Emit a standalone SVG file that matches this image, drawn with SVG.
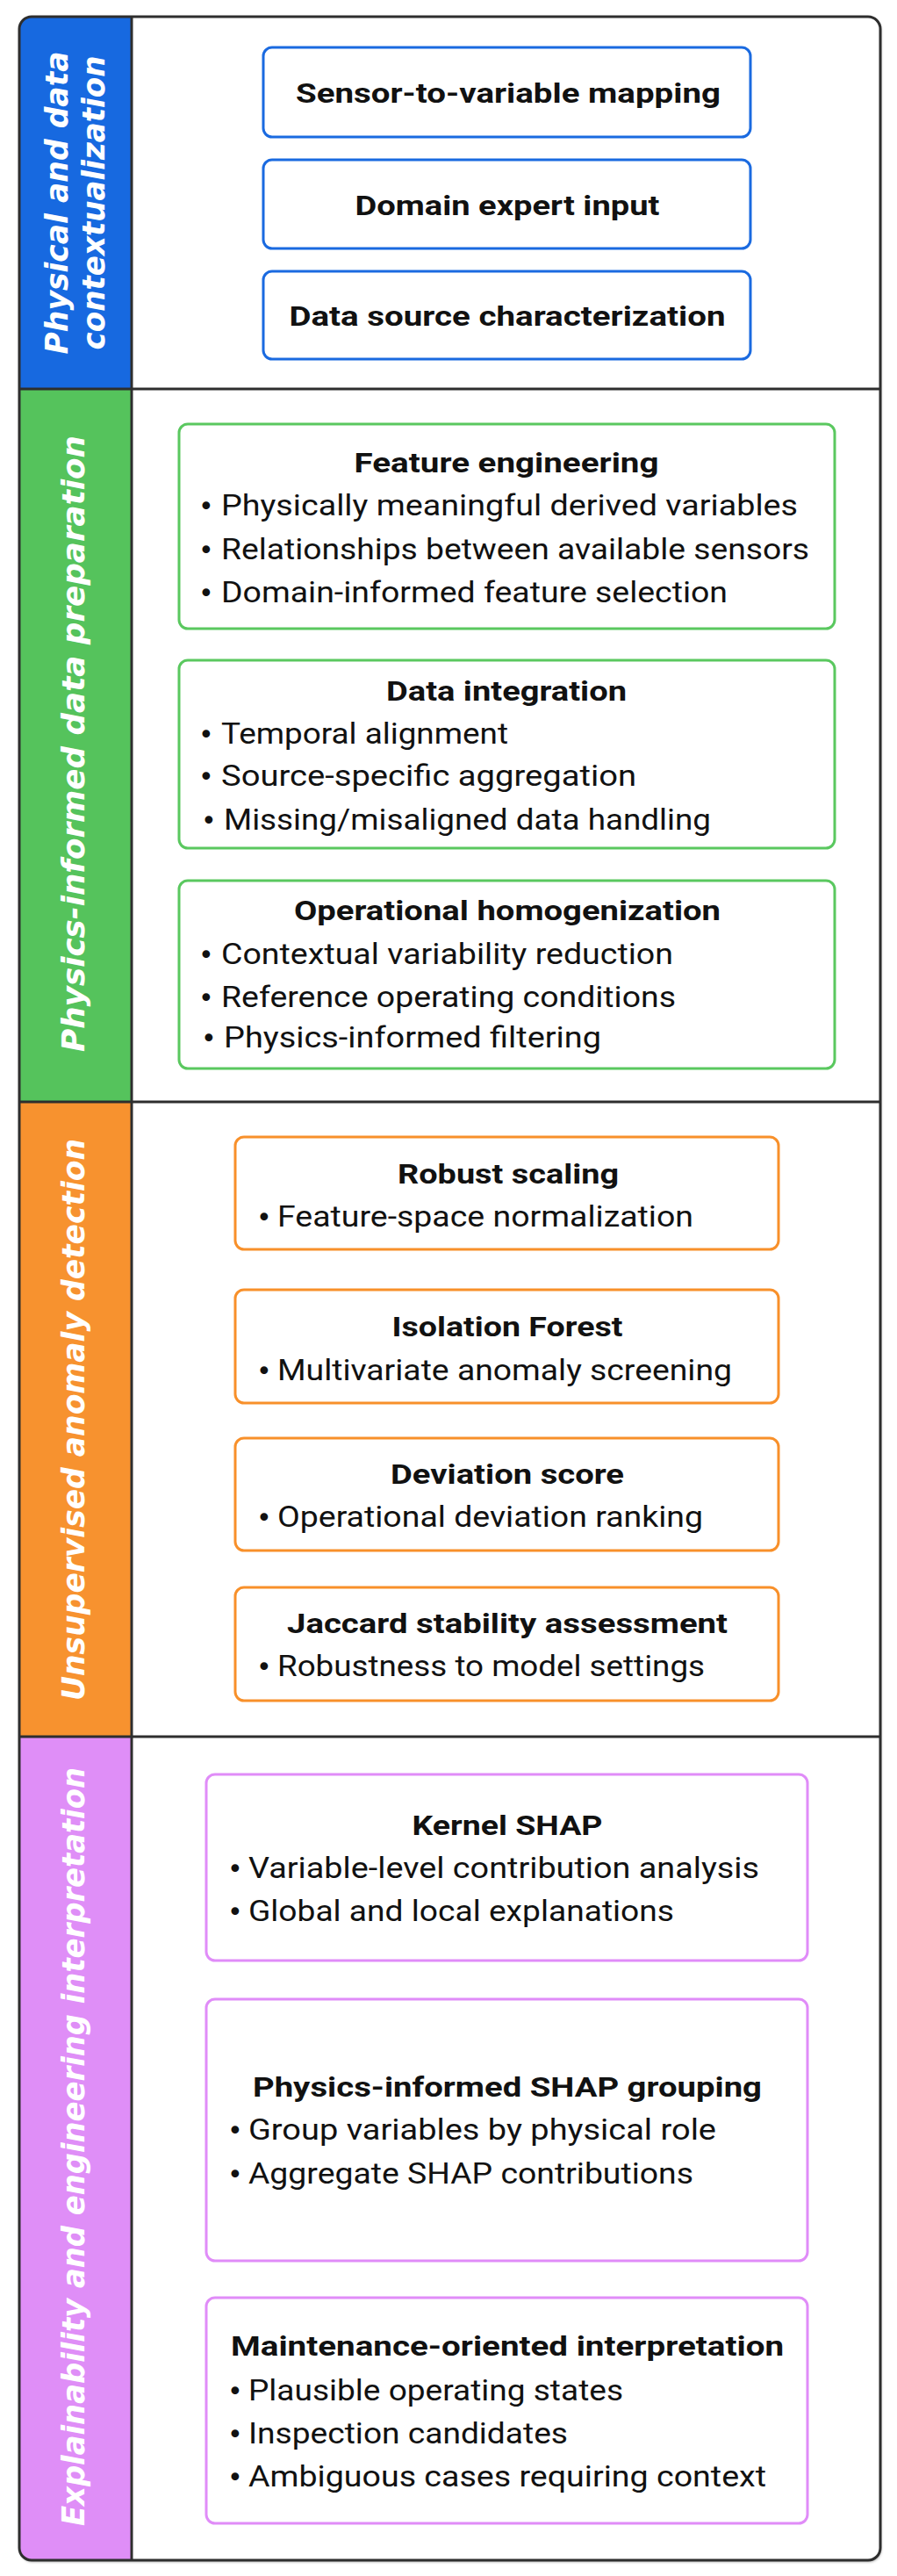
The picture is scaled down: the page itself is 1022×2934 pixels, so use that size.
<svg xmlns="http://www.w3.org/2000/svg" width="1022" height="2934" viewBox="0 0 1022 2934">
<defs>
<clipPath id="frameClip"><rect x="22" y="19" width="981" height="2897" rx="14" ry="14"/></clipPath>
<filter id="sh" x="-5%" y="-5%" width="110%" height="110%"><feDropShadow dx="1" dy="2" stdDeviation="1.5" flood-color="#000" flood-opacity="0.35"/></filter>
</defs>
<style>
.h{font-family:Roboto,"Liberation Sans",sans-serif;font-weight:700;font-size:32px;fill:#111;text-anchor:middle}
.b{font-family:Roboto,"Liberation Sans",sans-serif;font-weight:400;font-size:33px;fill:#111}
.d{font-family:"DejaVu Sans","Liberation Sans",sans-serif;font-weight:400;font-size:30px;fill:#111}
.lab{font-family:"DejaVu Sans","Liberation Sans",sans-serif;font-weight:700;font-style:oblique;font-size:35px;fill:#fff;text-anchor:middle}
.box{fill:#fff;stroke-width:3}
.blue{stroke:#1a6ae0}
.green{stroke:#5ac85f}
.orange{stroke:#f8902a}
.violet{stroke:#e08cf8}
.div{stroke:#2e2e2e;stroke-width:3;fill:none}
</style>
<rect x="22" y="19" width="981" height="2897" rx="14" ry="14" fill="#fff" filter="url(#sh)"/>
<g id="bands" clip-path="url(#frameClip)">
<rect x="22" y="19" width="128" height="424" fill="#1769e0"/>
<rect x="22" y="443" width="128" height="812" fill="#55c35c"/>
<rect x="22" y="1255" width="128" height="723" fill="#f7922f"/>
<rect x="22" y="1978" width="128" height="938" fill="#df8ef7"/>
</g>
<g id="frame">
<rect class="div" x="22" y="19" width="981" height="2897" rx="14" ry="14"/>
<line class="div" x1="150" y1="19" x2="150" y2="2916"/>
<line class="div" x1="22" y1="443" x2="1003" y2="443"/>
<line class="div" x1="22" y1="1255" x2="1003" y2="1255"/>
<line class="div" x1="22" y1="1978" x2="1003" y2="1978"/>
</g>
<g id="labels">
<text class="lab" transform="translate(77,231) rotate(-90)" textLength="345" lengthAdjust="spacingAndGlyphs">Physical and data</text>
<text class="lab" transform="translate(119,231) rotate(-90)" textLength="335" lengthAdjust="spacingAndGlyphs">contextualization</text>
<text class="lab" transform="translate(96,847) rotate(-90)" textLength="702" lengthAdjust="spacingAndGlyphs">Physics-informed data preparation</text>
<text class="lab" transform="translate(96,1617) rotate(-90)" textLength="640" lengthAdjust="spacingAndGlyphs">Unsupervised anomaly detection</text>
<text class="lab" transform="translate(96,2445) rotate(-90)" textLength="864" lengthAdjust="spacingAndGlyphs">Explainability and engineering interpretation</text>
</g>
<g id="connectors"/>
<g id="n-sensor">
<rect class="box blue" x="300" y="54" width="555" height="102" rx="10"/>
<text class="h" x="579" y="117" textLength="484" lengthAdjust="spacingAndGlyphs">Sensor-to-variable mapping</text>
</g>
<g id="n-domain">
<rect class="box blue" x="300" y="182" width="555" height="101" rx="10"/>
<text class="h" x="578" y="245" textLength="347" lengthAdjust="spacingAndGlyphs">Domain expert input</text>
</g>
<g id="n-datasource">
<rect class="box blue" x="300" y="309" width="555" height="100" rx="10"/>
<text class="h" x="578" y="371" textLength="497" lengthAdjust="spacingAndGlyphs">Data source characterization</text>
</g>
<g id="n-feature">
<rect class="box green" x="204" y="483" width="747" height="233" rx="10"/>
<text class="h" x="577" y="538" textLength="347" lengthAdjust="spacingAndGlyphs">Feature engineering</text>
<text class="d" x="226" y="587">•</text><text class="b" x="252" y="587" textLength="657" lengthAdjust="spacingAndGlyphs">Physically meaningful derived variables</text>
<text class="d" x="226" y="637">•</text><text class="b" x="252" y="637" textLength="670" lengthAdjust="spacingAndGlyphs">Relationships between available sensors</text>
<text class="d" x="226" y="686">•</text><text class="b" x="252" y="686" textLength="577" lengthAdjust="spacingAndGlyphs">Domain-informed feature selection</text>
</g>
<g id="n-integration">
<rect class="box green" x="204" y="752" width="747" height="214" rx="10"/>
<text class="h" x="577" y="798" textLength="274" lengthAdjust="spacingAndGlyphs">Data integration</text>
<text class="d" x="226" y="847">•</text><text class="b" x="252" y="847" textLength="327" lengthAdjust="spacingAndGlyphs">Temporal alignment</text>
<text class="d" x="226" y="895">•</text><text class="b" x="252" y="895" textLength="473" lengthAdjust="spacingAndGlyphs">Source-specific aggregation</text>
<text class="d" x="229" y="945">•</text><text class="b" x="255" y="945" textLength="555" lengthAdjust="spacingAndGlyphs">Missing/misaligned data handling</text>
</g>
<g id="n-homogenization">
<rect class="box green" x="204" y="1003" width="747" height="214" rx="10"/>
<text class="h" x="578" y="1048" textLength="486" lengthAdjust="spacingAndGlyphs">Operational homogenization</text>
<text class="d" x="226" y="1098">•</text><text class="b" x="252" y="1098" textLength="515" lengthAdjust="spacingAndGlyphs">Contextual variability reduction</text>
<text class="d" x="226" y="1147">•</text><text class="b" x="252" y="1147" textLength="518" lengthAdjust="spacingAndGlyphs">Reference operating conditions</text>
<text class="d" x="229" y="1193">•</text><text class="b" x="255" y="1193" textLength="430" lengthAdjust="spacingAndGlyphs">Physics-informed filtering</text>
</g>
<g id="n-robust">
<rect class="box orange" x="268" y="1295" width="619" height="128" rx="10"/>
<text class="h" x="579" y="1348" textLength="252" lengthAdjust="spacingAndGlyphs">Robust scaling</text>
<text class="d" x="292" y="1397">•</text><text class="b" x="316" y="1397" textLength="474" lengthAdjust="spacingAndGlyphs">Feature-space normalization</text>
</g>
<g id="n-iforest">
<rect class="box orange" x="268" y="1469" width="619" height="129" rx="10"/>
<text class="h" x="578" y="1522" textLength="263" lengthAdjust="spacingAndGlyphs">Isolation Forest</text>
<text class="d" x="292" y="1572">•</text><text class="b" x="316" y="1572" textLength="518" lengthAdjust="spacingAndGlyphs">Multivariate anomaly screening</text>
</g>
<g id="n-deviation">
<rect class="box orange" x="268" y="1638" width="619" height="128" rx="10"/>
<text class="h" x="578" y="1690" textLength="266" lengthAdjust="spacingAndGlyphs">Deviation score</text>
<text class="d" x="292" y="1739">•</text><text class="b" x="316" y="1739" textLength="485" lengthAdjust="spacingAndGlyphs">Operational deviation ranking</text>
</g>
<g id="n-jaccard">
<rect class="box orange" x="268" y="1808" width="619" height="129" rx="10"/>
<text class="h" x="578" y="1860" textLength="502" lengthAdjust="spacingAndGlyphs">Jaccard stability assessment</text>
<text class="d" x="292" y="1909">•</text><text class="b" x="316" y="1909" textLength="487" lengthAdjust="spacingAndGlyphs">Robustness to model settings</text>
</g>
<g id="n-kernelshap">
<rect class="box violet" x="235" y="2021" width="685" height="212" rx="10"/>
<text class="h" x="578" y="2090" textLength="217" lengthAdjust="spacingAndGlyphs">Kernel SHAP</text>
<text class="d" x="259" y="2139">•</text><text class="b" x="283" y="2139" textLength="582" lengthAdjust="spacingAndGlyphs">Variable-level contribution analysis</text>
<text class="d" x="259" y="2188">•</text><text class="b" x="283" y="2188" textLength="485" lengthAdjust="spacingAndGlyphs">Global and local explanations</text>
</g>
<g id="n-grouping">
<rect class="box violet" x="235" y="2277" width="685" height="298" rx="10"/>
<text class="h" x="578" y="2388" textLength="580" lengthAdjust="spacingAndGlyphs">Physics-informed SHAP grouping</text>
<text class="d" x="259" y="2437">•</text><text class="b" x="283" y="2437" textLength="533" lengthAdjust="spacingAndGlyphs">Group variables by physical role</text>
<text class="d" x="259" y="2487">•</text><text class="b" x="283" y="2487" textLength="507" lengthAdjust="spacingAndGlyphs">Aggregate SHAP contributions</text>
</g>
<g id="n-maintenance">
<rect class="box violet" x="235" y="2617" width="685" height="257" rx="10"/>
<text class="h" x="578" y="2683" textLength="630" lengthAdjust="spacingAndGlyphs">Maintenance-oriented interpretation</text>
<text class="d" x="259" y="2734">•</text><text class="b" x="283" y="2734" textLength="427" lengthAdjust="spacingAndGlyphs">Plausible operating states</text>
<text class="d" x="259" y="2783">•</text><text class="b" x="283" y="2783" textLength="364" lengthAdjust="spacingAndGlyphs">Inspection candidates</text>
<text class="d" x="259" y="2832">•</text><text class="b" x="283" y="2832" textLength="590" lengthAdjust="spacingAndGlyphs">Ambiguous cases requiring context</text>
</g>
</svg>
